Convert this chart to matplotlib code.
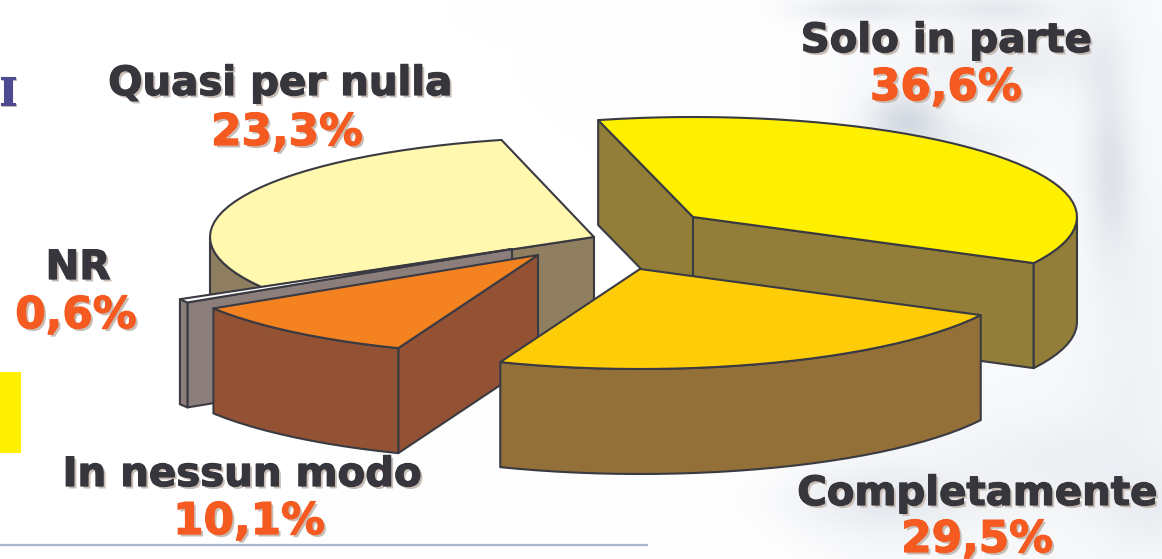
import matplotlib
matplotlib.use("Agg")
import matplotlib.pyplot as plt
import matplotlib.patheffects as pe
from matplotlib.patches import Polygon, Rectangle
import numpy as np

# drawn shares: the picture's wedges do not follow the printed labels,
# the 23,3 and 29,5 wedges are swapped in the original
names = ["Solo in parte", "Completamente", "In nessun modo", "NR", "Quasi per nulla"]
drawnShares = [36.6, 23.3, 10.1, 0.6, 29.5]
shownShares = ["36,6%", "29,5%", "10,1%", "0,6%", "23,3%"]

topColors = ["#FFF000", "#FFCC08", "#F58220", "#FFFFFF", "#FFF8AE"]
sideColors = ["#927E38", "#937038", "#945234", "#8C7E7A", "#8F7E60"]
apexes = [(693, 217), (640, 269), (538, 255), (512, 249), (594, 237)]
drawOrder = [4, 3, 2, 0, 1]

labelPos = [(946, 52, 946, 100), (977, 505, 977, 552), (242, 486, 249, 534),
            (78, 279, 76, 328), (280, 95, 287, 145)]

# marble background, soft shadows: x, y, spreadX, spreadY, strength
marble = [(905, 120, 26, 20, 0.13), (1110, 170, 16, 55, 0.09), (1130, 290, 30, 70, 0.03),
          (1010, 60, 60, 20, 0.05), (860, 8, 50, 9, 0.07), (1000, 8, 40, 10, 0.07),
          (1100, 60, 18, 45, 0.04), (1060, 460, 70, 30, 0.04), (880, 500, 70, 25, 0.07),
          (1150, 510, 40, 30, 0.05), (1130, 400, 40, 40, 0.02), (960, 140, 40, 14, 0.04)]

RX = 384
RY = 100
DEPTH = 105
START = 104.3
EDGE = "#3A3A42"
DARK = "#36363C"
ORANGE = "#F55A20"
NAME_SIZE = 29
PCT_SIZE = 31.5


def pt(apex, angle, depth=0):
    a = np.radians(angle)
    return (apex[0] + RX * np.cos(a), apex[1] - RY * np.sin(a) + depth)


def addPoly(ax, points, color):
    ax.add_patch(Polygon(points, closed=True, facecolor=color, edgecolor=EDGE,
                         linewidth=1.5, joinstyle="round"))


def drawSlice(ax, apex, a0, a1, top, side):
    # a0 > a1, clockwise
    low = (apex[0], apex[1] + DEPTH)
    # cut walls, only those turned to the viewer
    if np.sin(np.radians(a0 + 90)) < 0:
        addPoly(ax, [apex, pt(apex, a0), pt(apex, a0, DEPTH), low], side)
    if np.sin(np.radians(a1 - 90)) < 0:
        addPoly(ax, [apex, pt(apex, a1), pt(apex, a1, DEPTH), low], side)
    # outer rim, front part only
    angles = np.arange(a0, a1 - 0.01, -3.0)
    angles = np.append(angles, a1)
    front = angles[np.sin(np.radians(angles)) <= 0]
    if len(front) > 1:
        upper = [pt(apex, x) for x in front]
        lower = [pt(apex, x, DEPTH) for x in front[::-1]]
        addPoly(ax, upper + lower, side)
    addPoly(ax, [apex] + [pt(apex, x) for x in angles], top)


def addLabel(ax, x, y, txt, color, size):
    t = ax.text(x, y, txt, color=color, fontsize=size, fontweight="bold",
                family="DejaVu Sans", ha="center", va="baseline", zorder=10)
    t.set_path_effects([pe.withSimplePatchShadow(offset=(1.8, -1.8), shadow_rgbFace="#C8BDB5", alpha=1.0),
                        pe.withStroke(linewidth=0.9, foreground=color)])


def main():
    fig = plt.figure(figsize=(11.62, 5.59), dpi=100)
    ax = fig.add_axes([0, 0, 1, 1])
    ax.set_xlim(0, 1162)
    ax.set_ylim(559, 0)
    ax.axis("off")

    # background
    xx, yy = np.meshgrid(np.arange(0, 1162, 2), np.arange(0, 559, 2))
    shade = np.clip((xx - 760) / 120, 0, 1) * 0.025
    for mx, my, sx, sy, s in marble:
        shade = shade + s * np.exp(-((xx - mx) / sx) ** 2 / 2 - ((yy - my) / sy) ** 2 / 2)
    img = np.dstack([1 - shade * 1.05, 1 - shade * 0.9, 1 - shade * 0.7])
    ax.imshow(np.clip(img, 0, 1), extent=(0, 1162, 559, 0), aspect="auto", zorder=0,
              interpolation="bilinear")

    # leftovers of the slide
    ax.add_patch(Rectangle((0, 372), 21, 81, facecolor="#FFF000", edgecolor="none"))
    ax.plot([0, 648], [545, 545], color="#A9B5CD", linewidth=1.6, solid_capstyle="butt")
    t = ax.text(8, 105, "I", color="#4E4A90", fontsize=28, fontweight="bold",
                family="DejaVu Serif", ha="center", va="baseline")
    t.set_path_effects([pe.withSimplePatchShadow(offset=(1.2, -1.2), shadow_rgbFace="#C8BDB5", alpha=1.0),
                        pe.withStroke(linewidth=0.8, foreground="#4E4A90")])

    # slices
    edges = [START]
    for s in drawnShares:
        edges.append(edges[-1] - s * 3.6)
    for i in drawOrder:
        drawSlice(ax, apexes[i], edges[i], edges[i + 1], topColors[i], sideColors[i])

    # labels
    for i, name in enumerate(names):
        x1, y1, x2, y2 = labelPos[i]
        addLabel(ax, x1, y1, name, DARK, NAME_SIZE)
        addLabel(ax, x2, y2, shownShares[i], ORANGE, PCT_SIZE)

    fig.savefig("out.png", dpi=100)


if __name__ == "__main__":
    main()
